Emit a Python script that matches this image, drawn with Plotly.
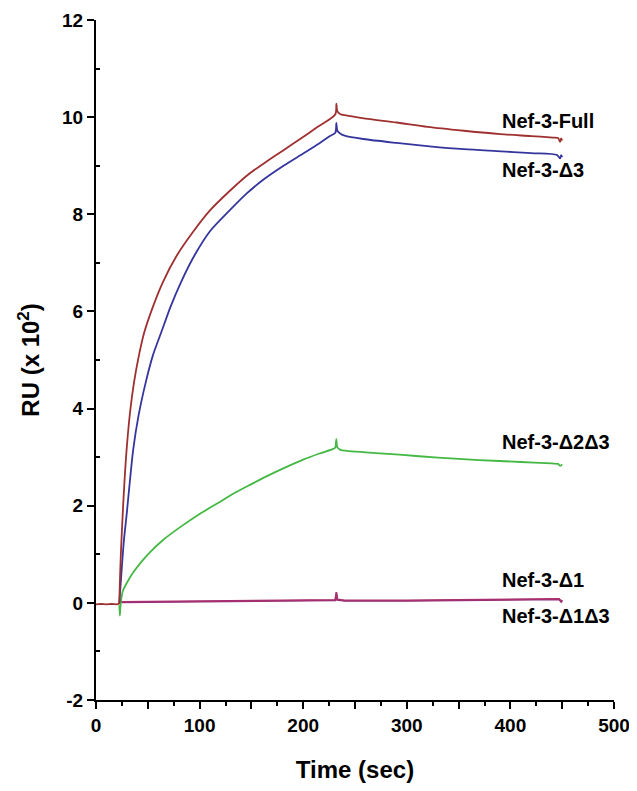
import plotly.graph_objects as go

# ---- data ----
base_t = [0, 5, 10, 15, 20, 22]
base_v = [-0.03, -0.02, -0.03, -0.02, -0.03, -0.02]

full_t = [22.5, 23, 24, 25.7, 27.5, 29.6, 33, 36.7, 41, 46.6, 55, 64.5, 78, 93.4, 110, 129, 147, 165, 181, 197, 214, 231,
          232, 233, 236, 240, 260, 290, 320, 355, 390, 420, 441, 446, 448, 449, 450]
full_v = [0.0, 0.4, 1.0, 1.8, 2.5, 3.17, 3.95, 4.54, 5.05, 5.57, 6.1, 6.6, 7.15, 7.63, 8.08, 8.48, 8.82, 9.09, 9.32, 9.55, 9.8, 10.06,
          10.28, 10.12, 10.06, 10.04, 9.97, 9.89, 9.8, 9.72, 9.65, 9.61, 9.58, 9.57, 9.49, 9.56, 9.52]

d3_t = [22.5, 23.5, 25, 27, 29.5, 32, 36, 41, 48, 55, 63, 72, 82, 95, 110, 129, 145, 162, 181, 200, 215, 225, 231,
        232, 233, 236, 240, 258, 290, 322, 355, 387, 420, 445, 448, 449, 450]
d3_v = [0.0, 0.3, 0.75, 1.3, 1.8, 2.35, 3.17, 3.85, 4.54, 5.1, 5.57, 6.1, 6.6, 7.15, 7.65, 8.08, 8.42, 8.72, 9.0, 9.25, 9.45, 9.6, 9.68,
        9.88, 9.72, 9.66, 9.62, 9.55, 9.47, 9.4, 9.34, 9.3, 9.26, 9.22, 9.15, 9.22, 9.18]

d2d3_t = [22.5, 23, 23.5, 24.5, 26, 30, 36, 44, 52, 65, 84, 100, 116.5, 132, 148.6, 165, 180.8, 200, 215, 229, 231,
          232, 233, 236, 242, 260, 293, 330, 370, 410, 440, 446, 448, 450]
d2d3_v = [-0.05, -0.26, -0.1, 0.1, 0.25, 0.42, 0.63, 0.85, 1.04, 1.3, 1.6, 1.83, 2.04, 2.24, 2.43, 2.61, 2.77, 2.95, 3.07, 3.17, 3.2,
          3.37, 3.2, 3.15, 3.13, 3.1, 3.05, 2.99, 2.94, 2.9, 2.87, 2.86, 2.82, 2.85]

d1_t = [22.5, 23, 25, 60, 120, 180, 231, 232, 233, 240, 300, 380, 440, 447, 449, 450]
d1_v = [-0.02, 0.03, 0.02, 0.03, 0.04, 0.05, 0.06, 0.22, 0.07, 0.05, 0.05, 0.07, 0.08, 0.08, 0.03, 0.06]

d1d3_t = [22.5, 23, 25, 60, 120, 180, 231, 232, 233, 240, 300, 380, 440, 447, 449, 450]
d1d3_v = [-0.02, 0.02, 0.01, 0.02, 0.03, 0.04, 0.05, 0.18, 0.06, 0.04, 0.04, 0.06, 0.07, 0.07, 0.02, 0.05]

labels = ["Nef-3-Full", "Nef-3-Δ3", "Nef-3-Δ2Δ3", "Nef-3-Δ1", "Nef-3-Δ1Δ3"]
label_t = [390, 390, 390, 390, 390]
label_v = [9.92, 8.92, 3.31, 0.48, -0.28]

x_tickvals = [0, 50, 100, 150, 200, 250, 300, 350, 400, 450, 500]
x_ticktext = ["0", "", "100", "", "200", "", "300", "", "400", "", "500"]
y_tickvals = [-2, 0, 2, 4, 6, 8, 10, 12]
y_ticktext = ["-2", "0", "2", "4", "6", "8", "10", "12"]

RED = "#9e3030"
BLUE = "#35359e"
GREEN = "#44b844"
MAG = "#a8306e"
PUR = "#8e2e86"

FAM = "Liberation Sans, Arial, sans-serif"

fig = go.Figure()
lw = 1.8
def add(t, v, c, shape="spline"):
    fig.add_trace(go.Scatter(x=t, y=v, mode="lines", line=dict(color=c, width=lw, shape=shape, smoothing=0.8),
                             showlegend=False))

add(d1d3_t, d1d3_v, PUR, "linear")
add(d1_t, d1_v, MAG, "linear")
add(d2d3_t, d2d3_v, GREEN)
add(d3_t, d3_v, BLUE)
add(full_t, full_v, RED)
add(base_t + [22.5], base_v + [0.0], RED, "linear")

for txt, tx, ty in zip(labels, label_t, label_v):
    fig.add_annotation(x=tx, y=ty, text="<b>" + txt + "</b>", showarrow=False, xanchor="left", yanchor="middle",
                       font=dict(family=FAM, size=20, color="black"))

# the page body adds an 8px offset; margins compensate so the plot area lands at x 96-614, y 20-700
fig.update_layout(
    width=637, height=791,
    margin=dict(l=88, r=31, t=12, b=99, autoexpand=False),
    paper_bgcolor="white", plot_bgcolor="white",
    font=dict(family=FAM, size=19, color="black"),
    xaxis=dict(range=[0, 500], showgrid=False, zeroline=False, showline=True, linecolor="black", linewidth=2,
               automargin=False,
               ticks="outside", ticklen=7, tickwidth=2, tickcolor="black",
               tickvals=x_tickvals, ticktext=["<b>" + s + "</b>" if s else " " for s in x_ticktext],
               tickfont=dict(family=FAM, size=19, color="black"),
               minor=dict(tickvals=[25, 75, 125, 175, 225, 275, 325, 375, 425, 475], ticks="outside", ticklen=4,
                          tickwidth=1.5, tickcolor="black"),
               title=dict(text="<b>Time (sec)</b>", font=dict(family=FAM, size=24), standoff=26)),
    yaxis=dict(range=[-2, 12], showgrid=False, zeroline=False, showline=True, linecolor="black", linewidth=2,
               automargin=False,
               ticks="outside", ticklen=7, tickwidth=2, tickcolor="black",
               tickvals=y_tickvals, ticktext=["<b>" + s + "</b>" for s in y_ticktext],
               tickfont=dict(family=FAM, size=19, color="black"),
               minor=dict(tickvals=[-1, 1, 3, 5, 7, 9, 11], ticks="inside", ticklen=4, tickwidth=1.5, tickcolor="black"),
               title=dict(text="<b>RU (x 10<sup>2</sup>)</b>", font=dict(family=FAM, size=24), standoff=16)),
)

fig.write_html("out.html")
